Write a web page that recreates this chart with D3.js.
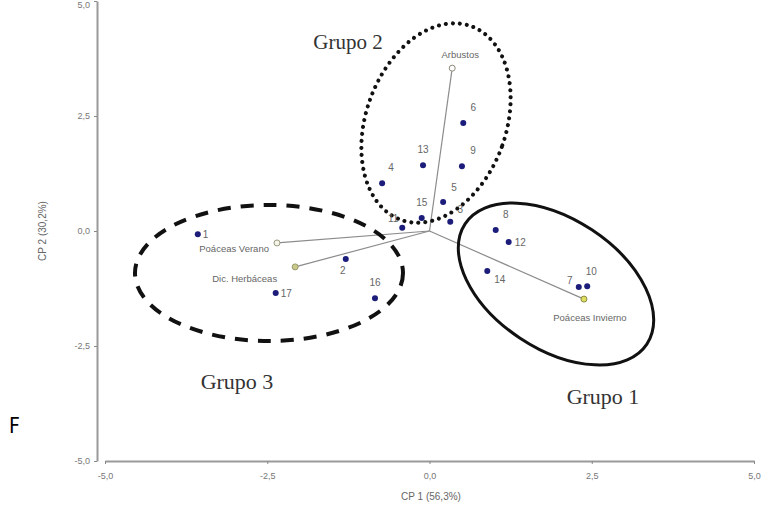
<!DOCTYPE html>
<html><head><meta charset="utf-8">
<script src="https://cdn.jsdelivr.net/npm/d3@7"></script>
<style>body{margin:0;background:#fff}svg{display:block}</style>
</head><body>
<script>
// ---- data ----
const pointIds = ["1","2","3","4","5","6","7","8","9","10","11","12","13","14","15","16","17"];
const pointX = [-3.57,-1.29,0.32,-0.73,0.21,0.52,2.30,1.02,0.50,2.43,-0.42,1.22,-0.10,0.89,-0.12,-0.84,-2.37];
const pointY = [-0.07,-0.61,0.20,1.04,0.63,2.35,-1.22,0.02,1.41,-1.20,0.07,-0.24,1.43,-0.87,0.28,-1.46,-1.35];
const loadingNames = ["Arbustos","Poáceas Verano","Dic. Herbáceas","Poáceas Invierno"];
const loadingX = [0.35,-2.35,-2.07,2.38];
const loadingY = [3.54,-0.26,-0.78,-1.48];
const tickValues = [-5,-2.5,0,2.5,5];
const xTitle = "CP 1 (56,3%)";
const yTitle = "CP 2 (30,2%)";
const groupNames = ["Grupo 1","Grupo 2","Grupo 3"];

// ---- layout / style ----
const W = 768, H = 517;
const svg = d3.select("body").append("svg").attr("width", W).attr("height", H);
const x = d3.scaleLinear().domain([-5,5]).range([105,754]);
const y = d3.scaleLinear().domain([-5,5]).range([461,1]);
const fmt = d => d3.format(".1f")(d).replace(".", ",").replace("−","-");

// axes
const axisColor = "#9a9a9a";
const gx = svg.append("g").attr("transform","translate(0,461)")
  .call(d3.axisBottom(x).tickValues(tickValues).tickFormat(fmt).tickSize(3).tickSizeOuter(0));
const gy = svg.append("g").attr("transform","translate(97,0)")
  .call(d3.axisLeft(y).tickValues(tickValues).tickFormat(fmt).tickSize(3).tickSizeOuter(0));
[gx,gy].forEach(g=>{
  g.select(".domain").attr("stroke",axisColor).attr("stroke-width",2);
  g.selectAll(".tick line").attr("stroke","#888").attr("stroke-width",1);
  g.selectAll(".tick text").attr("fill","#777").attr("font-family","Liberation Sans, Arial, sans-serif").attr("font-size",9);
});
gx.selectAll(".tick text").attr("dy","1.3em");
gy.selectAll(".tick text").attr("dx","-1px");
gy.selectAll(".tick").filter(d=>d===5).select("text").attr("dy","0.7em");

svg.append("text").attr("x",431).attr("y",500).attr("text-anchor","middle")
  .attr("font-family","Liberation Sans, Arial, sans-serif").attr("font-size",10).attr("fill","#666").text(xTitle);
svg.append("text").attr("transform","translate(46,231) rotate(-90)").attr("text-anchor","middle")
  .attr("font-family","Liberation Sans, Arial, sans-serif").attr("font-size",10).attr("fill","#666").text(yTitle);

// loading vectors
const loadings = loadingNames.map((n,i)=>({name:n,x:loadingX[i],y:loadingY[i]}));
const loadStyle = {
  "Arbustos":{fill:"#ffffff",stroke:"#8a8a7a",dx:8,dy:-10,anchor:"middle"},
  "Poáceas Verano":{fill:"#f4f4e8",stroke:"#9a9a80",dx:-8,dy:9,anchor:"end"},
  "Dic. Herbáceas":{fill:"#c9c98a",stroke:"#9a9a70",dx:-18,dy:15,anchor:"end"},
  "Poáceas Invierno":{fill:"#dede60",stroke:"#8a8a40",dx:6,dy:22,anchor:"middle"}
};
svg.append("g").selectAll("line").data(loadings).join("line")
  .attr("x1",x(0)).attr("y1",y(0)).attr("x2",d=>x(d.x)).attr("y2",d=>y(d.y))
  .attr("stroke","#8c8c8c").attr("stroke-width",1.2);

// group ellipses
const ell = svg.append("g").attr("fill","none").attr("stroke","#111");
ell.append("ellipse").attr("cx",0).attr("cy",0).attr("rx",70).attr("ry",103)
  .attr("transform","translate(436,123) rotate(20)")
  .attr("stroke-width",4).attr("stroke-linecap","round").attr("stroke-dasharray","0 7");
ell.append("ellipse").attr("cx",0).attr("cy",0).attr("rx",134).attr("ry",68)
  .attr("transform","translate(269,273)")
  .attr("stroke-width",4).attr("stroke-dasharray","13 10");
ell.append("ellipse").attr("cx",0).attr("cy",0).attr("rx",109).attr("ry",65)
  .attr("transform","translate(556,284) rotate(33.5)")
  .attr("stroke-width",3);

// loading end markers + labels
svg.append("g").selectAll("circle").data(loadings).join("circle")
  .attr("cx",d=>x(d.x)).attr("cy",d=>y(d.y)).attr("r",3)
  .attr("fill",d=>loadStyle[d.name].fill).attr("stroke",d=>loadStyle[d.name].stroke).attr("stroke-width",1);
svg.append("g").selectAll("text").data(loadings).join("text")
  .attr("x",d=>x(d.x)+loadStyle[d.name].dx).attr("y",d=>y(d.y)+loadStyle[d.name].dy)
  .attr("text-anchor",d=>loadStyle[d.name].anchor)
  .attr("font-family","Liberation Sans, Arial, sans-serif").attr("font-size",9.5).attr("fill","#666")
  .text(d=>d.name);

// points
const pts = pointIds.map((id,i)=>({id,x:pointX[i],y:pointY[i]}));
const labelOff = {"1":[5,4,"start"],"2":[-3,15,"middle"],"3":[10,-9,"middle"],"4":[9,-12,"middle"],
  "5":[11,-11,"middle"],"6":[10,-12,"middle"],"7":[-9,-3,"middle"],"8":[10,-12,"middle"],
  "9":[11,-12,"middle"],"10":[4,-11,"middle"],"11":[-9,-6,"middle"],"12":[6,4,"start"],
  "13":[0,-12,"middle"],"14":[7,12,"start"],"15":[0,-12,"middle"],"16":[0,-12,"middle"],"17":[5,4,"start"]};
svg.append("g").selectAll("circle").data(pts).join("circle")
  .attr("cx",d=>x(d.x)).attr("cy",d=>y(d.y)).attr("r",3).attr("fill","#1c1c7a");
svg.append("g").selectAll("text").data(pts).join("text")
  .attr("x",d=>x(d.x)+labelOff[d.id][0]).attr("y",d=>y(d.y)+labelOff[d.id][1])
  .attr("text-anchor",d=>labelOff[d.id][2])
  .attr("font-family","Liberation Sans, Arial, sans-serif").attr("font-size",10).attr("fill","#666")
  .text(d=>d.id);

// group titles
const groupPos = {"Grupo 1":[603,404,22],"Grupo 2":[348,49,21],"Grupo 3":[237,389,22]};
svg.append("g").selectAll("text").data(groupNames).join("text")
  .attr("x",d=>groupPos[d][0]).attr("y",d=>groupPos[d][1]).attr("text-anchor","middle")
  .attr("font-family","Liberation Serif, Times New Roman, serif").attr("font-size",d=>groupPos[d][2]).attr("fill","#333")
  .text(d=>d);

// stray letter at left margin
svg.append("text").attr("x",9).attr("y",433).attr("font-family","Liberation Sans Narrow, DejaVu Sans Condensed, sans-serif")
  .attr("font-size",21).attr("fill","#000").text("F");
</script>
</body></html>
